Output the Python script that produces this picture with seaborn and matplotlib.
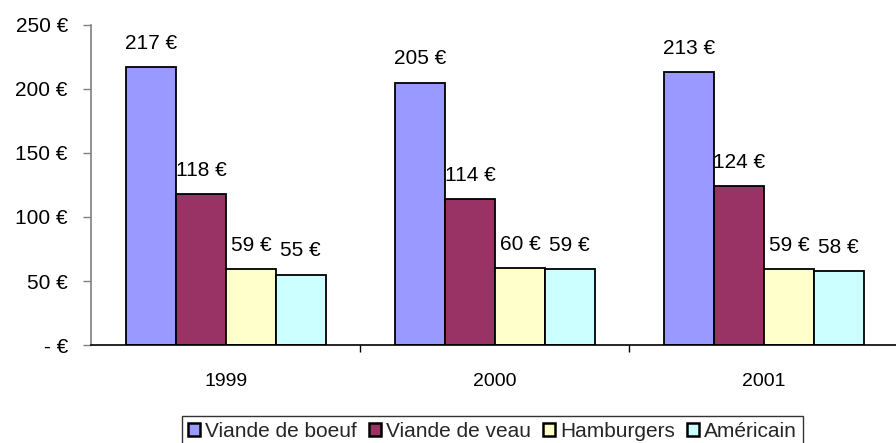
import numpy as np
import pandas as pd
import matplotlib
matplotlib.use("Agg")
import matplotlib.pyplot as plt
import seaborn as sns
from matplotlib.patches import Patch

# data
years = ['1999', '2000', '2001']
series = ['Viande de boeuf', 'Viande de veau', 'Hamburgers', 'Américain']
boeuf = [217, 205, 213]
veau = [118, 114, 124]
hamburgers = [59, 60, 59]
americain = [55, 59, 58]
colors = ['#9999FF', '#993366', '#FFFFCC', '#CCFFFF']

rows = []
for name, vals in zip(series, [boeuf, veau, hamburgers, americain]):
    for y, v in zip(years, vals):
        rows.append({'year': y, 'serie': name, 'value': v})
df = pd.DataFrame(rows)

sns.set_style('white')
plt.rcParams['font.family'] = ['Liberation Sans', 'DejaVu Sans']
plt.rcParams['font.size'] = 15

fs = 15
fig = plt.figure(figsize=(8.96, 4.43), dpi=100)
ax = fig.add_axes([0.1021, 0.2212, 0.9007, 0.7224])

sns.barplot(data=df, x='year', y='value', hue='serie', order=years, hue_order=series,
            palette=colors, width=0.74, edgecolor='black', linewidth=1.3,
            saturation=1, ax=ax, legend=False)

# value labels above bars
for cont in ax.containers:
    for bar in cont:
        h = bar.get_height()
        ax.annotate(f"{int(h)} €", (bar.get_x() + bar.get_width() / 2, h),
                    xytext=(0, 17), textcoords='offset points',
                    ha='center', va='center', fontsize=fs, color='black')

ax.set_xlim(-0.5, 2.5)
ax.set_ylim(0, 250)
ax.set_yticks([0, 50, 100, 150, 200, 250])
ax.set_yticklabels(['- €' if v == 0 else f"{v} €" for v in [0, 50, 100, 150, 200, 250]])
ax.set_xlabel('')
ax.set_ylabel('')

ax.set_xticks([0.5, 1.5], minor=True)
ax.tick_params(axis='x', which='major', length=0, pad=20, labelsize=14, colors='black')
ax.tick_params(axis='x', which='minor', bottom=True, length=5, width=1, color='black', direction='out')
ax.tick_params(axis='y', left=True, length=6, width=1, color='#808080', pad=11, labelsize=fs, labelcolor='black')

for s in ['top', 'right']:
    ax.spines[s].set_visible(False)
ax.spines['left'].set_color('#808080')
ax.spines['left'].set_linewidth(1.2)
ax.spines['bottom'].set_color('black')
ax.spines['bottom'].set_linewidth(1.2)

# legend sits at the bottom edge, partly cut off like the original
handles = [Patch(facecolor=c, edgecolor='black', linewidth=1.8) for c in colors]
leg = fig.legend(handles, series, loc='upper center', bbox_to_anchor=(0.5497, 0.061), ncol=4,
                 frameon=True, fancybox=False, edgecolor='black', fontsize=fs,
                 handlelength=0.55, handleheight=0.6, handletextpad=0.25,
                 columnspacing=0.6, borderpad=0.3, borderaxespad=0)
leg.get_frame().set_linewidth(1.0)

fig.savefig('out.png', dpi=100)
